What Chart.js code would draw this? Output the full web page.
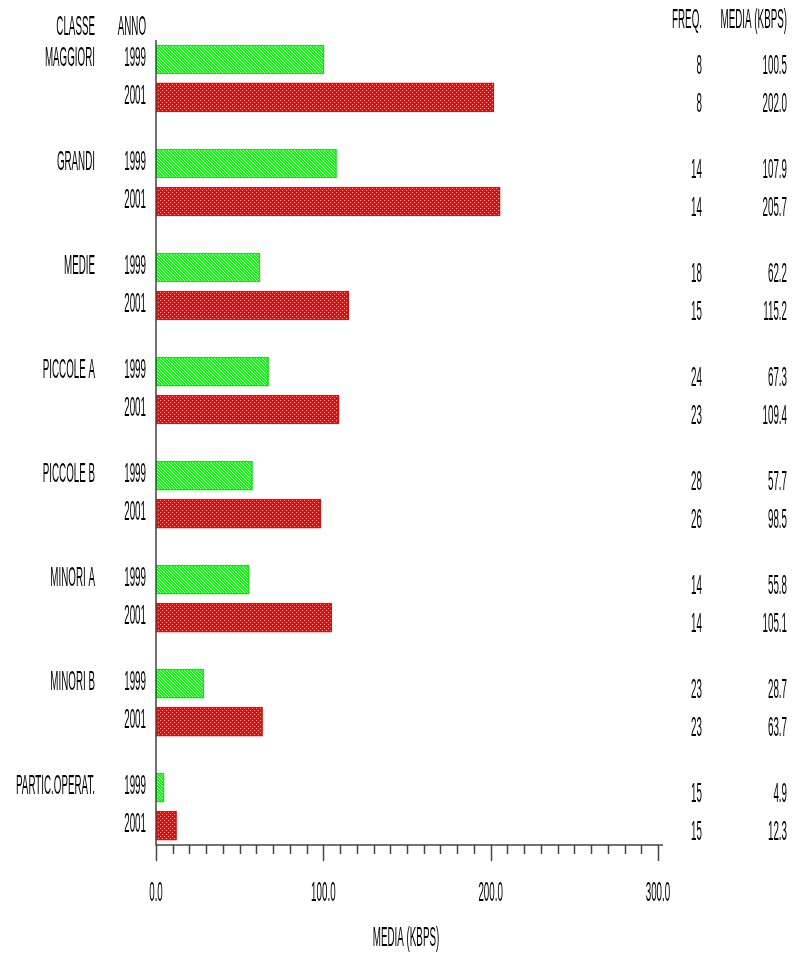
<!DOCTYPE html>
<html>
<head>
<meta charset="utf-8">
<script src="https://cdn.jsdelivr.net/npm/chart.js@4/dist/chart.umd.min.js"></script>
<style>
  html, body { margin: 0; padding: 0; background: #fff; }
  #wrap { width: 799px; height: 957px; position: relative; }
</style>
</head>
<body>
<div id="wrap"><canvas id="chart" width="799" height="957"></canvas></div>
<script>
// dati
const classi = ['MAGGIORI', 'GRANDI', 'MEDIE', 'PICCOLE A', 'PICCOLE B', 'MINORI A', 'MINORI B', 'PARTIC.OPERAT.'];
const anni = ['1999', '2001'];
const media1999 = [100.5, 107.9, 62.2, 67.3, 57.7, 55.8, 28.7, 4.9];
const media2001 = [202.0, 205.7, 115.2, 109.4, 98.5, 105.1, 63.7, 12.3];
const freq1999 = [8, 14, 18, 24, 28, 14, 23, 15];
const freq2001 = [8, 14, 15, 23, 26, 14, 23, 15];
const xTicks = [0, 100, 200, 300];
const xMinorStep = 10;

// posizione di ogni barra sull'asse y (gruppo * passo + anno)
const PASSO = 2.74;
const pos = (g, k) => g * PASSO + k;

// retini delle barre
function makePattern(n, bg, fg, fn) {
  const c = document.createElement('canvas');
  c.width = n; c.height = n;
  const x = c.getContext('2d');
  x.fillStyle = bg; x.fillRect(0, 0, n, n);
  x.fillStyle = fg;
  for (let i = 0; i < n; i++) for (let j = 0; j < n; j++) if (fn(i, j)) x.fillRect(i, j, 1, 1);
  return x.createPattern(c, 'repeat');
}
const ctx0 = document.getElementById('chart').getContext('2d');
const verde = makePattern(3, '#00ff00', '#d0ffd0', (i, j) => (i - j + 6) % 3 === 0);
const rosso = makePattern(4, '#ff0000', '#ffc0c0', (i, j) => (i === 0 && j === 0) || (i === 2 && j === 2));

const FONT = '28px "Liberation Sans", Arial, sans-serif';
const SX = 0.35;
function testo(ctx, s, x, y, align) {
  ctx.save();
  ctx.font = FONT;
  ctx.fillStyle = '#000';
  ctx.textBaseline = 'middle';
  ctx.textAlign = align;
  ctx.translate(x, y);
  ctx.scale(SX, 1);
  ctx.fillText(s, 0, 0);
  ctx.restore();
}

const decorazioni = {
  id: 'decorazioni',
  afterDraw(chart) {
    const ctx = chart.ctx;
    const xs = chart.scales.x, ys = chart.scales.y;
    const area = chart.chartArea;

    // assi
    ctx.save();
    ctx.strokeStyle = '#444';
    ctx.lineWidth = 1.5;
    ctx.beginPath();
    ctx.moveTo(area.left, area.top);
    ctx.lineTo(area.left, area.bottom);
    ctx.lineTo(area.right, area.bottom);
    ctx.stroke();
    const maxT = xTicks[xTicks.length - 1];
    for (let v = 0; v <= maxT; v += xMinorStep) {
      const px = Math.round(xs.getPixelForValue(v)) + 0.5;
      const major = v % 100 === 0;
      ctx.beginPath();
      ctx.moveTo(px, area.bottom);
      ctx.lineTo(px, area.bottom + (major ? 16 : 9));
      ctx.stroke();
    }
    ctx.restore();

    xTicks.forEach(v => testo(ctx, v.toFixed(1), xs.getPixelForValue(v), 893, 'center'));
    testo(ctx, 'MEDIA (KBPS)', 406, 938, 'center');

    // intestazioni
    testo(ctx, 'CLASSE', 95, 27, 'right');
    testo(ctx, 'ANNO', 146, 27, 'right');
    testo(ctx, 'FREQ.', 702, 20, 'right');
    testo(ctx, 'MEDIA (KBPS)', 787, 20, 'right');

    classi.forEach((c, g) => {
      [media1999, media2001].forEach((serie, k) => {
        const py = ys.getPixelForValue(pos(g, k));
        if (k === 0) testo(ctx, c, 95, py - 1, 'right');
        testo(ctx, anni[k], 146, py - 1, 'right');
        const f = k === 0 ? freq1999[g] : freq2001[g];
        testo(ctx, String(f), 702, py + 7, 'right');
        testo(ctx, serie[g].toFixed(1), 787, py + 7, 'right');
      });
    });
  }
};

new Chart(ctx0, {
  type: 'bar',
  data: {
    datasets: [
      {
        label: anni[0],
        data: media1999.map((v, g) => ({ x: v, y: pos(g, 0) })),
        backgroundColor: verde,
        borderColor: '#00f000',
        borderWidth: 1.5,
        borderSkipped: false
      },
      {
        label: anni[1],
        data: media2001.map((v, g) => ({ x: v, y: pos(g, 1) })),
        backgroundColor: rosso,
        borderColor: '#ff0000',
        borderWidth: 1.5,
        borderSkipped: false
      }
    ]
  },
  options: {
    indexAxis: 'y',
    responsive: false,
    animation: false,
    grouped: false,
    barThickness: 29,
    layout: { padding: { left: 156, top: 40, right: 136, bottom: 112 } },
    plugins: { legend: { display: false }, tooltip: { enabled: false } },
    scales: {
      x: { type: 'linear', min: 0, max: 303, display: false },
      y: { type: 'linear', reverse: true, offset: false, min: -0.513, max: 7 * PASSO + 1 + 0.51, display: false }
    }
  },
  plugins: [decorazioni]
});
</script>
</body>
</html>
